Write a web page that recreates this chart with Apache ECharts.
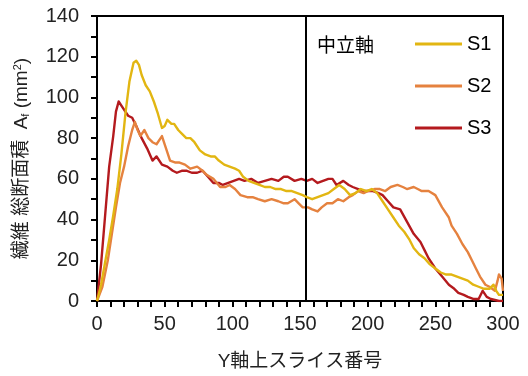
<!DOCTYPE html>
<html>
<head>
<meta charset="utf-8">
<script src="https://cdn.jsdelivr.net/npm/echarts@6/dist/echarts.min.js"></script>
<style>html,body{margin:0;padding:0;background:#fff;}#c{width:528px;height:376px;}</style>
</head>
<body>
<div id="c"></div>
<script>
const seriesNames = ['S1', 'S2', 'S3'];
const neutralAxisX = 154;
const neutralAxisLabel = '中立軸';
const xTicks = [0, 50, 100, 150, 200, 250, 300];
const yTicks = [0, 20, 40, 60, 80, 100, 120, 140];

const s1X = [0,3,6,9,12,15,18,21,24,27,29,31,33,36,39,42,45,48,50,52,55,57,60,63,66,69,72,76,80,84,87,90,94,98,102,105,108,112,116,120,124,128,132,136,140,144,148,152,155,159,163,167,171,175,179,183,187,191,195,199,203,207,211,215,219,223,227,231,234,238,242,246,250,254,258,262,266,270,274,278,282,286,290,293,295,297,300];
const s1Y = [0,8,19,30,42,55,72,92,108,117,118,116,111,106,103,98,92,85,86,89,87,87,84,82,80,80,78,74,72,71,71,69,67,66,65,64,61,59,58,57,56,56,55,55,54,54,53,52,51,50,51,52,53,55,57,55,52,53,55,54,55,53,49,45,41,37,34,30,26,23,21,18,16,14,13,13,12,11,10,8,7,6,6,8,5,3,3];

const s2X = [0,4,8,11,14,17,20,23,26,28,30,32,35,38,41,44,48,51,54,58,61,65,69,74,78,81,86,91,95,98,102,106,111,115,119,124,129,134,138,141,146,149,152,156,159,163,166,170,174,178,182,186,189,193,197,200,205,209,213,217,222,226,229,234,237,240,245,250,255,260,262,266,270,274,277,280,283,287,290,292,294,296,297,299,300];
const s2Y = [0,7,20,33,46,58,66,76,84,88,84,81,84,80,78,77,81,75,69,68,68,67,65,66,64,62,60,56,56,57,55,52,51,51,50,49,50,49,48,48,50,48,46,46,45,44,46,48,48,50,49,51,52,54,53,54,55,55,54,56,57,56,55,56,55,54,54,52,46,41,37,33,28,24,20,16,12,8,7,6,5,10,13,11,5];

const s3X = [0,3,6,9,12,14,16,19,23,26,29,33,37,41,44,48,52,56,59,63,66,70,74,78,82,86,90,93,97,101,105,109,114,119,124,129,134,138,141,146,151,155,159,163,167,171,174,177,182,186,189,193,197,200,204,208,211,215,219,224,229,234,239,242,245,250,255,260,264,267,271,274,278,282,285,288,291,294,297,300];
const s3Y = [0,18,42,66,81,93,98,95,91,90,86,80,75,69,71,67,66,64,63,64,64,63,63,64,61,58,58,57,58,59,60,59,60,58,59,60,59,61,61,59,60,59,60,58,59,60,60,57,59,57,56,55,54,54,54,53,52,49,46,45,39,33,29,25,21,16,12,8,6,4,3,2,1,1,5,2,1,0.5,0,0];

const colors = ['#E2B612', '#E5823F', '#B41A1E'];
const pairs = (xs, ys) => xs.map((x, i) => [x, ys[i]]);
const seriesData = [pairs(s1X, s1Y), pairs(s2X, s2Y), pairs(s3X, s3Y)];

const latin = '"Liberation Sans", Arial, sans-serif';
const cjk = '"Liberation Sans", "Noto Sans CJK JP", sans-serif';

const chart = echarts.init(document.getElementById('c'), null, {renderer: 'canvas'});
const series = seriesNames.map((n, i) => ({
  name: n,
  type: 'line',
  data: seriesData[i],
  showSymbol: false,
  symbol: 'none',
  smooth: false,
  lineStyle: {color: colors[i], width: 2.4, join: 'round'},
  itemStyle: {color: colors[i]},
  z: 3 - i + 2
}));
series.push({
  name: 'neutral',
  type: 'line',
  data: [],
  markLine: {
    silent: true,
    symbol: 'none',
    label: {show: false},
    lineStyle: {color: '#000', width: 2, type: 'solid'},
    data: [{xAxis: neutralAxisX}]
  }
});

chart.setOption({
  animation: false,
  backgroundColor: '#fff',
  grid: {left: 97, right: 25, top: 16, bottom: 72, show: true, borderColor: '#000', borderWidth: 2},
  legend: {
    data: seriesNames,
    orient: 'vertical',
    left: 410, top: 29,
    icon: 'rect',
    itemWidth: 47, itemHeight: 3,
    itemGap: 22,
    textStyle: {fontFamily: latin, fontSize: 20, color: '#000', padding: [0,0,0,0]},
  },
  graphic: [{
    type: 'text', left: 317, top: 35,
    style: {text: neutralAxisLabel, font: '19px "Noto Sans CJK JP"', fill: '#000'}
  }],
  xAxis: {
    type: 'value', min: 0, max: 300, interval: 50,
    name: 'Y軸上スライス番号', nameLocation: 'middle', nameGap: 51,
    nameTextStyle: {fontFamily: cjk, fontSize: 19, color: '#222'},
    axisLine: {show: true, lineStyle: {color: '#000', width: 2}},
    axisTick: {show: true, inside: false, length: 6, lineStyle: {color: '#000', width: 2}},
    minorTick: {show: true, splitNumber: 5, length: 6, lineStyle: {color: '#000', width: 2}},
    splitLine: {show: false},
    axisLabel: {margin: 13, fontFamily: latin, fontSize: 20, color: '#222',
      formatter: v => xTicks.includes(v) ? String(v) : ''}
  },
  yAxis: {
    type: 'value', min: 0, max: 140, interval: 20,
    name: '繊維 総断面積  A{sub|f} (mm{sup|2})', nameLocation: 'middle', nameGap: 66, nameRotate: 90,
    nameTextStyle: {fontFamily: cjk, fontSize: 19, color: '#222',
      rich: {sub: {fontSize: 11, fontFamily: latin, verticalAlign: 'bottom', padding: [8,0,0,0]},
             sup: {fontSize: 11, fontFamily: latin, verticalAlign: 'top', padding: [0,0,8,0]}}},
    axisLine: {show: true, lineStyle: {color: '#000', width: 2}},
    axisTick: {show: true, inside: false, length: 6, lineStyle: {color: '#000', width: 2}},
    minorTick: {show: true, splitNumber: 2, length: 6, lineStyle: {color: '#000', width: 2}},
    splitLine: {show: false},
    axisLabel: {margin: 18, fontFamily: latin, fontSize: 20, color: '#222',
      formatter: v => yTicks.includes(v) ? String(v) : ''}
  },
  series: series
});
</script>
</body>
</html>
